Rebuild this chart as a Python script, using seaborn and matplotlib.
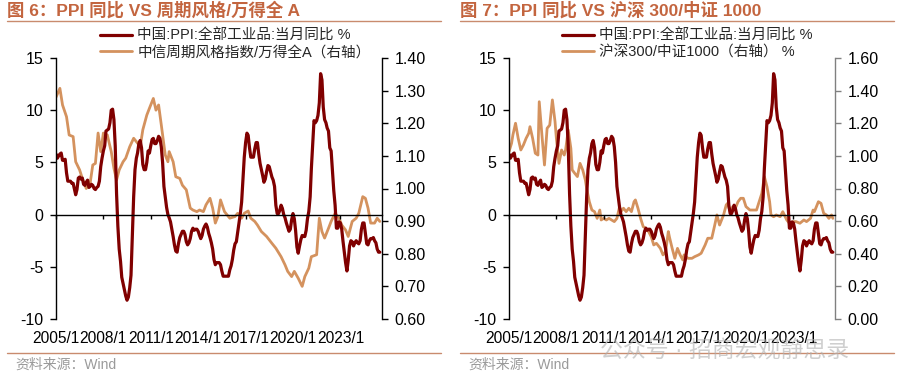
import pandas as pd
import matplotlib.pyplot as plt
import matplotlib.lines as mlines
import seaborn as sns

# --- estilo ---
sns.set_theme(style="ticks")
plt.rcParams['font.family'] = ['Liberation Sans', 'Noto Sans CJK SC', 'DejaVu Sans']
plt.rcParams['axes.unicode_minus'] = False

RED = '#800000'
ORANGE = '#D4925E'
TITLE_COLOR = '#C3653F'
RULE_COLOR = '#C98B6E'

# --- dados ---
# 中国:PPI:全部工业品:当月同比, 2005/1 - 2025/7
ppi = [
    5.8, 5.4, 5.6, 5.8, 5.9, 5.2, 5.2, 5.3, 4.0, 3.2, 3.2, 3.2,
    3.0, 3.0, 2.5, 1.9, 2.4, 3.5, 3.6, 3.4, 3.5, 2.9, 2.8, 3.1,
    3.3, 2.6, 2.7, 2.9, 2.8, 2.5, 2.4, 2.6, 2.7, 3.2, 4.6, 5.4,
    6.1, 6.6, 8.0, 8.1, 8.2, 8.8, 10.0, 10.1, 9.1, 6.6, 2.0, -1.1,
    -3.3, -4.5, -6.0, -6.6, -7.2, -7.8, -8.2, -7.9, -7.0, -5.8, -2.1, 1.7,
    4.3, 5.4, 5.9, 6.8, 7.1, 6.4, 4.8, 4.3, 4.3, 5.0, 6.1, 5.9,
    6.6, 7.2, 7.3, 6.8, 6.8, 7.1, 7.5, 7.3, 6.5, 5.0, 2.7, 1.7,
    0.7, 0.0, -0.3, -0.7, -1.4, -2.1, -2.9, -3.5, -3.6, -2.8, -2.2, -1.9,
    -1.6, -1.6, -1.9, -2.6, -2.9, -2.7, -2.3, -1.6, -1.3, -1.5, -1.4, -1.4,
    -1.6, -2.0, -2.3, -2.0, -1.4, -1.1, -0.9, -1.2, -1.8, -2.2, -2.7, -3.3,
    -4.3, -4.8, -4.6, -4.6, -4.6, -4.8, -5.4, -5.9, -5.9, -5.9, -5.9, -5.9,
    -5.3, -4.9, -4.3, -3.4, -2.8, -2.6, -1.7, -0.8, 0.1, 1.2, 3.3, 5.5,
    6.9, 7.8, 7.6, 6.4, 5.5, 5.5, 5.5, 6.3, 6.9, 6.9, 5.8, 4.9,
    4.3, 3.7, 3.1, 3.4, 4.1, 4.7, 4.6, 4.1, 3.6, 3.3, 2.7, 0.9,
    0.1, 0.1, 0.4, 0.9, 0.6, 0.0, -0.3, -0.8, -1.2, -1.6, -1.4, -0.5,
    0.1, -0.4, -1.5, -3.1, -3.7, -3.0, -2.4, -2.0, -2.1, -2.1, -1.5, -0.4,
    0.3, 1.7, 4.4, 6.8, 9.0, 8.8, 9.0, 9.5, 10.7, 13.5, 12.9, 10.3,
    9.1, 8.8, 8.3, 8.0, 6.4, 6.1, 4.2, 2.3, 0.9, -1.3, -1.3, -0.7,
    -0.8, -1.4, -2.5, -3.6, -4.6, -5.4, -4.4, -3.0, -2.5, -2.6, -3.0, -2.7,
    -2.5, -2.7, -2.8, -2.5, -1.4, -0.8, -0.8, -1.8, -2.8, -2.9, -2.5, -2.3,
    -2.3, -2.2, -2.5, -2.7, -3.3, -3.6, -3.6,
]
ppi_dates = pd.date_range('2005-01-01', periods=len(ppi), freq='MS')

# 中信周期风格指数/万得全A
cyc_dates = [
    '2005-01', '2005-04', '2005-06', '2005-09', '2005-11', '2006-02', '2006-04', '2006-07',
    '2006-09', '2006-12', '2007-03', '2007-05', '2007-07', '2007-09', '2007-11', '2008-01',
    '2008-04', '2008-07', '2008-09', '2008-11', '2009-01', '2009-04', '2009-06', '2009-09',
    '2009-12', '2010-03', '2010-05', '2010-07', '2010-10', '2010-12', '2011-03', '2011-05',
    '2011-07', '2011-09', '2011-12', '2012-02', '2012-03', '2012-06', '2012-08', '2012-11',
    '2013-01', '2013-04', '2013-07', '2013-09', '2013-12', '2014-02', '2014-05', '2014-07',
    '2014-10', '2014-12', '2015-02', '2015-04', '2015-06', '2015-09', '2016-01', '2016-05',
    '2016-07', '2016-10', '2016-12', '2017-03', '2017-05', '2017-08', '2017-10', '2018-01',
    '2018-05', '2018-09', '2018-12', '2019-04', '2019-07', '2019-09', '2019-12', '2020-02',
    '2020-05', '2020-08', '2020-10', '2021-01', '2021-03', '2021-07', '2021-09', '2021-11',
    '2022-01', '2022-04', '2022-06', '2022-09', '2022-12', '2023-02', '2023-05', '2023-07',
    '2023-10', '2024-01', '2024-03', '2024-06', '2024-08', '2024-10', '2024-12', '2025-03',
    '2025-05', '2025-07',
]
cyc_ratio = [
    1.280, 1.307, 1.256, 1.220, 1.164, 1.159, 1.082, 1.057,
    1.031, 1.000, 1.016, 1.072, 1.077, 1.170, 1.113, 1.170,
    1.164, 1.113, 1.062, 1.026, 1.057, 1.082, 1.093, 1.128,
    1.154, 1.139, 1.128, 1.180, 1.225, 1.246, 1.276, 1.240,
    1.256, 1.195, 1.103, 1.082, 1.113, 1.082, 1.036, 1.031,
    1.010, 0.996, 0.940, 0.934, 0.929, 0.934, 0.929, 0.950,
    0.970, 0.940, 0.894, 0.914, 0.965, 0.929, 0.909, 0.914,
    0.924, 0.909, 0.924, 0.931, 0.909, 0.899, 0.888, 0.868,
    0.853, 0.832, 0.817, 0.791, 0.766, 0.746, 0.730, 0.746,
    0.725, 0.700, 0.730, 0.756, 0.791, 0.797, 0.909, 0.868,
    0.848, 0.878, 0.899, 0.924, 0.909, 0.888, 0.873, 0.853,
    0.899, 0.909, 0.924, 0.975, 0.970, 0.940, 0.894, 0.894,
    0.909, 0.899,
]

# 沪深300/中证1000
hs_dates = [
    '2005-01', '2005-03', '2005-04', '2005-06', '2005-08', '2005-10', '2005-12', '2006-02',
    '2006-04', '2006-05', '2006-07', '2006-09', '2006-11', '2006-12', '2007-02', '2007-04',
    '2007-06', '2007-08', '2007-10', '2007-12', '2008-01', '2008-03', '2008-05', '2008-07',
    '2008-08', '2008-10', '2008-12', '2009-01', '2009-03', '2009-05', '2009-07', '2009-09',
    '2009-11', '2009-12', '2010-02', '2010-04', '2010-06', '2010-08', '2010-10', '2010-11',
    '2011-01', '2011-03', '2011-05', '2011-07', '2011-09', '2011-11', '2012-01', '2012-02',
    '2012-04', '2012-06', '2012-08', '2012-10', '2012-12', '2013-01', '2013-03', '2013-05',
    '2013-07', '2013-09', '2013-11', '2014-01', '2014-03', '2014-05', '2014-06', '2014-08',
    '2014-10', '2014-12', '2015-02', '2015-03', '2015-05', '2015-07', '2015-09', '2015-11',
    '2016-01', '2016-02', '2016-05', '2016-08', '2016-10', '2017-01', '2017-03', '2017-06',
    '2017-08', '2017-11', '2018-01', '2018-03', '2018-05', '2018-06', '2018-08', '2018-10',
    '2018-11', '2019-01', '2019-03', '2019-05', '2019-07', '2019-09', '2019-11', '2020-01',
    '2020-04', '2020-06', '2020-09', '2020-11', '2021-01', '2021-03', '2021-05', '2021-07',
    '2021-08', '2021-10', '2021-12', '2022-03', '2022-05', '2022-08', '2022-10', '2023-01',
    '2023-03', '2023-06', '2023-09', '2023-11', '2024-02', '2024-04', '2024-05', '2024-08',
    '2024-10', '2024-12', '2025-02', '2025-04', '2025-06', '2025-07',
]
hs_ratio = [
    1.026, 1.077, 1.128, 1.200, 1.108, 1.036, 1.067, 1.108,
    1.138, 1.179, 1.108, 1.016, 1.005, 1.332, 1.128, 0.944,
    1.169, 1.189, 1.343, 1.210, 1.108, 0.954, 1.036, 1.005,
    1.036, 1.159, 1.046, 0.914, 0.893, 0.873, 0.954, 0.914,
    0.852, 0.801, 0.719, 0.668, 0.658, 0.617, 0.668, 0.607,
    0.617, 0.607, 0.617, 0.607, 0.597, 0.617, 0.689, 0.658,
    0.679, 0.658, 0.679, 0.658, 0.719, 0.730, 0.679, 0.617,
    0.566, 0.556, 0.536, 0.505, 0.454, 0.464, 0.454, 0.433,
    0.393, 0.413, 0.536, 0.500, 0.433, 0.372, 0.433, 0.393,
    0.362, 0.393, 0.372, 0.372, 0.382, 0.393, 0.403, 0.454,
    0.495, 0.495, 0.566, 0.638, 0.576, 0.597, 0.638, 0.699,
    0.709, 0.658, 0.689, 0.679, 0.719, 0.740, 0.740, 0.689,
    0.668, 0.668, 0.668, 0.719, 0.770, 0.873, 0.811, 0.719,
    0.638, 0.627, 0.638, 0.627, 0.658, 0.607, 0.587, 0.597,
    0.597, 0.587, 0.607, 0.597, 0.617, 0.668, 0.658, 0.719,
    0.709, 0.648, 0.638, 0.617, 0.638, 0.617,
]

tick_labels = ['2005/1', '2008/1', '2011/1', '2014/1', '2017/1', '2020/1', '2023/1']
tick_dates = pd.to_datetime(['2005-01-01', '2008-01-01', '2011-01-01', '2014-01-01',
                             '2017-01-01', '2020-01-01', '2023-01-01'])

W, H = 905, 380
fig = plt.figure(figsize=(W / 100, H / 100), dpi=100)


def painel(x0, title, rdates, rvals, rlabel, rlim, rticks, rcolor, leg_x):
    ax = fig.add_axes([x0 / W, (H - 319) / H, 326 / W, 261 / H])
    ax2 = ax.twinx()

    sns.lineplot(x=pd.to_datetime(rdates), y=rvals, ax=ax2, color=ORANGE,
                 linewidth=2.0, label=rlabel, legend=False)
    sns.lineplot(x=ppi_dates, y=ppi, ax=ax, color=RED, linewidth=2.3,
                 label='中国:PPI:全部工业品:当月同比 %', legend=False)

    ax.set_zorder(ax2.get_zorder() + 1)
    ax.patch.set_visible(False)

    ax.set_xlim(pd.Timestamp('2005-01-01'), pd.Timestamp('2025-08-20'))
    ax.set_ylim(-10, 15)
    ax.set_yticks([-10, -5, 0, 5, 10, 15])
    ax.set_xticks(tick_dates)
    ax.set_xticklabels(tick_labels)
    ax.set_xlabel('')
    ax.set_ylabel('')

    ax.spines['top'].set_visible(False)
    ax.spines['right'].set_visible(False)
    ax.spines['bottom'].set_position(('data', 0))
    for s in ['left', 'bottom']:
        ax.spines[s].set_color('black')
        ax.spines[s].set_linewidth(1.0)
    ax.tick_params(axis='x', direction='out', length=3, width=1, pad=81,
                   labelsize=11.2, colors='black')
    ax.tick_params(axis='y', direction='out', length=4, width=1, pad=5,
                   labelsize=11.5, colors='black')

    ax2.set_ylim(*rlim)
    ax2.set_yticks(rticks)
    ax2.set_yticklabels([f'{t:.2f}' for t in rticks])
    ax2.set_ylabel('')
    for s in ['top', 'left', 'bottom']:
        ax2.spines[s].set_visible(False)
    ax2.spines['right'].set_color(rcolor)
    ax2.spines['right'].set_linewidth(1.0)
    ax2.tick_params(axis='y', direction='out', length=4, width=1, pad=5,
                    labelsize=11.5, color=rcolor, labelcolor='black')

    h1, l1 = ax.get_legend_handles_labels()
    h2, l2 = ax2.get_legend_handles_labels()
    fig.legend(h1 + h2, l1 + l2, loc='upper left', bbox_to_anchor=(leg_x / W, 1 - 29 / H),
               frameon=False, fontsize=10.5, handlelength=2.2, handletextpad=0.35,
               labelspacing=0.15, borderpad=0, borderaxespad=0)

    # título, linhas e fonte
    fig.text((x0 - 49) / W, 1 - 10 / H, title, fontsize=12.5, fontweight='bold',
             color=TITLE_COLOR, va='center', ha='left')
    fig.add_artist(mlines.Line2D([(x0 - 49) / W, (x0 + 385) / W], [1 - 21 / H] * 2,
                                 color=RULE_COLOR, linewidth=1.0))
    fig.add_artist(mlines.Line2D([(x0 - 49) / W, (x0 + 385) / W], [1 - 353 / H] * 2,
                                 color=RULE_COLOR, linewidth=1.0))
    fig.text((x0 - 41) / W, 1 - 365 / H, '资料来源：Wind', fontsize=10,
             color='#9a9a9a', va='center', ha='left')
    return ax, ax2


painel(56, '图 6：PPI 同比 VS 周期风格/万得全 A', cyc_dates, cyc_ratio,
       '中信周期风格指数/万得全A（右轴）', (0.6, 1.4),
       [0.6, 0.7, 0.8, 0.9, 1.0, 1.1, 1.2, 1.3, 1.4], 'black', 100)
painel(509, '图 7：PPI 同比 VS 沪深 300/中证 1000', hs_dates, hs_ratio,
       '沪深300/中证1000（右轴） %', (0.0, 1.6),
       [0.0, 0.2, 0.4, 0.6, 0.8, 1.0, 1.2, 1.4, 1.6], '#808080', 562)

# marca d'água
fig.text(600 / W, 1 - 350 / H, '公众号 · 招商宏观静思录', fontsize=16.5,
         color='#b0b0b0', alpha=0.6, va='center', ha='left')

plt.savefig('out.png', dpi=100)
